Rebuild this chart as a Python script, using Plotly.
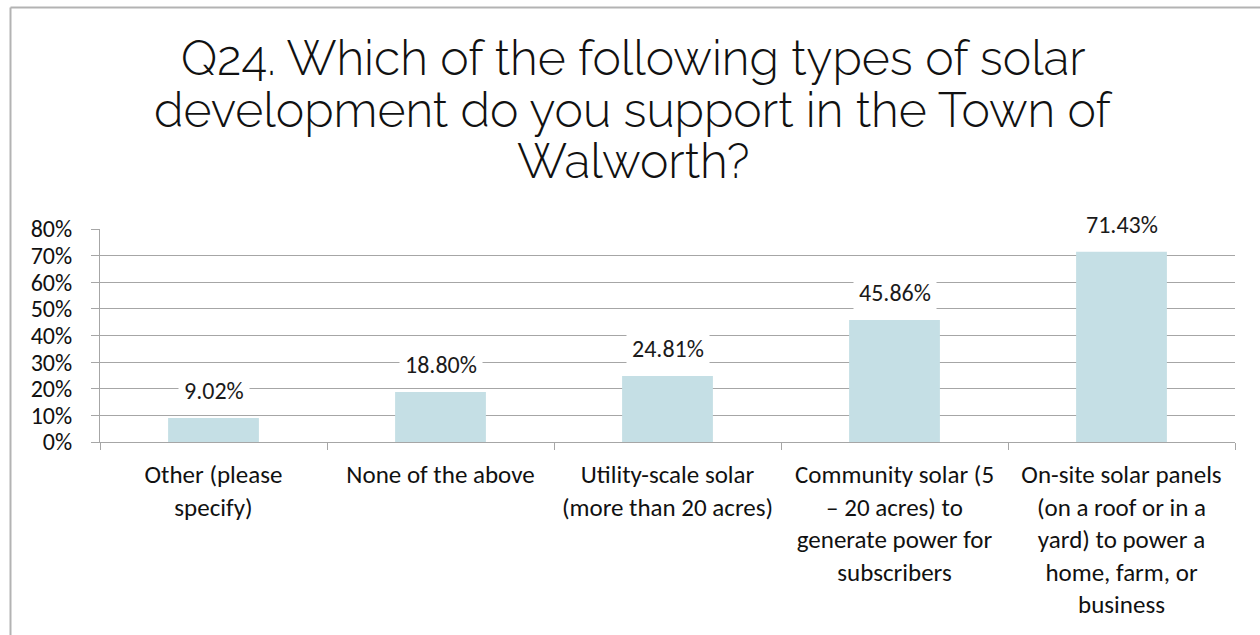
import plotly.graph_objects as go

# Survey responses (share of respondents)
categories = [
    "Other (please<br>specify)",
    "None of the above",
    "Utility-scale solar<br>(more than 20 acres)",
    "Community solar (5<br>– 20 acres) to<br>generate power for<br>subscribers",
    "On-site solar panels<br>(on a roof or in a<br>yard) to power a<br>home, farm, or<br>business",
]
shares = [0.0902, 0.1880, 0.2481, 0.4586, 0.7143]
y_ticks = [0, 0.1, 0.2, 0.3, 0.4, 0.5, 0.6, 0.7, 0.8]
y_tick_text = ["0%", "10%", "20%", "30%", "40%", "50%", "60%", "70%", "80%"]
title_lines = [
    "Q24. Which of the following types of solar",
    "development do you support in the Town of",
    "Walworth?",
]

W, H = 1260, 635
ML, MR, MT, MB = 100, 25, 229, 193
PW, PH = W - ML - MR, H - MT - MB

BAR = "#c5dfe5"
GRID = "#a6a6a6"
BODY_FONT = "Carlito, Lato, Liberation Sans, sans-serif"


def px_x(x):
    return (x - ML) / PW


def px_y(y):
    return 1 + (MT - y) / PH


fig = go.Figure(
    go.Bar(
        x=categories,
        y=shares,
        marker=dict(color=BAR, line=dict(width=0)),
        width=0.4,
        hoverinfo="skip",
    )
)

# value labels on white boxes above each bar
for c, v in zip(categories, shares):
    fig.add_annotation(
        x=c, y=v, text=f"{v * 100:.2f}%",
        showarrow=False, yanchor="middle", yshift=27,
        bgcolor="white", borderpad=5,
        font=dict(family=BODY_FONT, size=24, color="#1a1a1a"),
    )

# chart title, one annotation per line for tighter leading
for line, yc in zip(title_lines, [58, 110, 161]):
    fig.add_annotation(
        xref="paper", yref="paper",
        x=px_x(633), y=px_y(yc),
        text=line, showarrow=False,
        xanchor="center", yanchor="middle",
        font=dict(family="Raleway, Lato, Open Sans, sans-serif", size=48,
                  color="#111111", weight=300),
    )

# outer chart frame (left and top edges)
fx0, fy0 = px_x(10.5), px_y(7.5)
fig.add_shape(type="line", xref="paper", yref="paper",
              x0=fx0, y0=fy0, x1=px_x(W + 30), y1=fy0,
              line=dict(color="#b3b3b3", width=2))
fig.add_shape(type="line", xref="paper", yref="paper",
              x0=fx0, y0=fy0, x1=fx0, y1=px_y(H + 30),
              line=dict(color="#b3b3b3", width=2))

fig.update_layout(
    width=W, height=H,
    margin=dict(l=ML, r=MR, t=MT, b=MB, autoexpand=False),
    paper_bgcolor="white", plot_bgcolor="white",
    showlegend=False,
    bargap=0.6,
    xaxis=dict(
        type="category",
        showline=True, linecolor=GRID, linewidth=1,
        ticks="outside", tickson="boundaries", ticklen=7, tickcolor=GRID,
        showgrid=False,
        tickfont=dict(family=BODY_FONT, size=25, color="#111111"),
        ticklabelstandoff=10,
    ),
    yaxis=dict(
        range=[0, 0.8],
        tickvals=y_ticks, ticktext=y_tick_text,
        showline=True, linecolor=GRID, linewidth=1,
        ticks="outside", ticklen=8, tickcolor=GRID,
        showgrid=True, gridcolor=GRID, gridwidth=1,
        zeroline=False,
        tickfont=dict(family=BODY_FONT, size=24, color="#111111"),
        ticklabelstandoff=14,
    ),
)

fig.write_html("out.html")
